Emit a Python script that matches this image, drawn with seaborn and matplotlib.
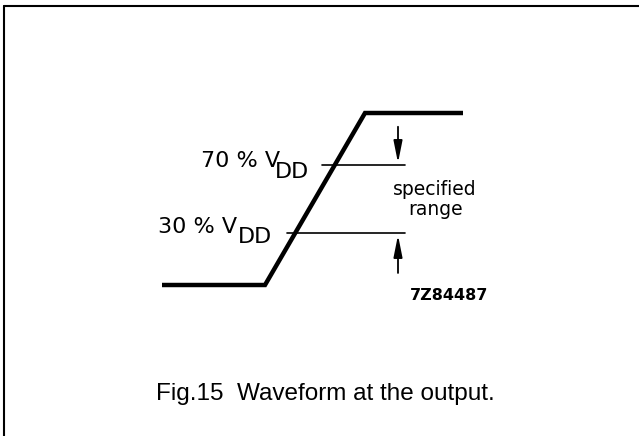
import matplotlib
matplotlib.use("Agg")
import matplotlib.pyplot as plt
import seaborn as sns
import pandas as pd
from matplotlib.lines import Line2D

# ---- data ----
t_wave = [0.0, 1.03, 2.03, 3.01]          # time (arbitrary units)
v_wave = [0.0, 0.0, 1.0, 1.0]             # output voltage, fraction of VDD
levels = [0.7, 0.3]                       # threshold levels (fraction of VDD)
level_labels = ["70 % V", "30 % V"]
level_start = [1.60, 1.25]                # where each level line starts (t)
level_end = 2.43
arrow_t = 2.36
caption = "Fig.15  Waveform at the output."
range_text = "specified\nrange"
code_text = "7Z84487"

W, H = 639, 436
sns.set_theme(style="white")
plt.rcParams["text.color"] = "black"
fig = plt.figure(figsize=(W / 100, H / 100), dpi=100)
ax = fig.add_axes([0, 0, 1, 1])

# pixel mapping: x_px = 162 + 100 t ; y_px = 285 - 172 v
x0, sx = 162, 100.0
y0, sy = 285, 172.0
ax.set_xlim((0 - x0) / sx, (W - x0) / sx)
ax.set_ylim((y0 - H) / sy, y0 / sy)
ax.axis("off")

def fx(px):
    return px / W

def fy(py):
    return 1 - py / H

df = pd.DataFrame({"t": t_wave, "v": v_wave})
sns.lineplot(data=df, x="t", y="v", ax=ax, color="black", linewidth=3.2,
             sort=False, estimator=None)
for ln in ax.lines:
    ln.set_solid_joinstyle("miter")
    ln.set_solid_capstyle("butt")

for lv, ls in zip(levels, level_start):
    ax.plot([ls, level_end], [lv, lv], color="black", linewidth=1.2)

# arrows
arrow_kw = dict(arrowstyle="-|>,head_length=1.1,head_width=0.22", color="black",
                linewidth=1.3, shrinkA=0, shrinkB=0)
ax.annotate("", xy=(arrow_t, levels[0] + 0.01), xytext=(arrow_t, 0.92),
            arrowprops=arrow_kw)
ax.annotate("", xy=(arrow_t, levels[1] - 0.01), xytext=(arrow_t, 0.07),
            arrowprops=arrow_kw)

# level labels
lab_pos = [(280, 167, 275, 178), (237, 233, 238, 243)]
for lab, (xr, yb, xd, yd) in zip(level_labels, lab_pos):
    fig.text(fx(xr), fy(yb), lab, ha="right", va="baseline", fontsize=16,
             family="DejaVu Sans", color="black")
    fig.text(fx(xd), fy(yd), "DD", ha="left", va="baseline", fontsize=16,
             family="DejaVu Sans", color="black")

fig.text(fx(435), fy(195), "specified", ha="center", va="baseline",
         fontsize=13.5, family="DejaVu Sans", color="black")
fig.text(fx(436), fy(215), "range", ha="center", va="baseline",
         fontsize=13.5, family="DejaVu Sans", color="black")
fig.text(fx(410), fy(300), code_text, ha="left", va="baseline",
         fontsize=11.5, family="DejaVu Sans", fontweight="bold", color="black")

fig.text(fx(325), fy(400), caption, ha="center", va="baseline",
         fontsize=17.5, family="Liberation Sans", color="black")

# frame (left and top edges visible)
fig.add_artist(Line2D([fx(4), fx(4)], [0, fy(6)], transform=fig.transFigure,
                      color="black", linewidth=1.5))
fig.add_artist(Line2D([fx(4), 1], [fy(6), fy(6)], transform=fig.transFigure,
                      color="black", linewidth=1.5))

fig.savefig("out.png", dpi=100, facecolor="white")
